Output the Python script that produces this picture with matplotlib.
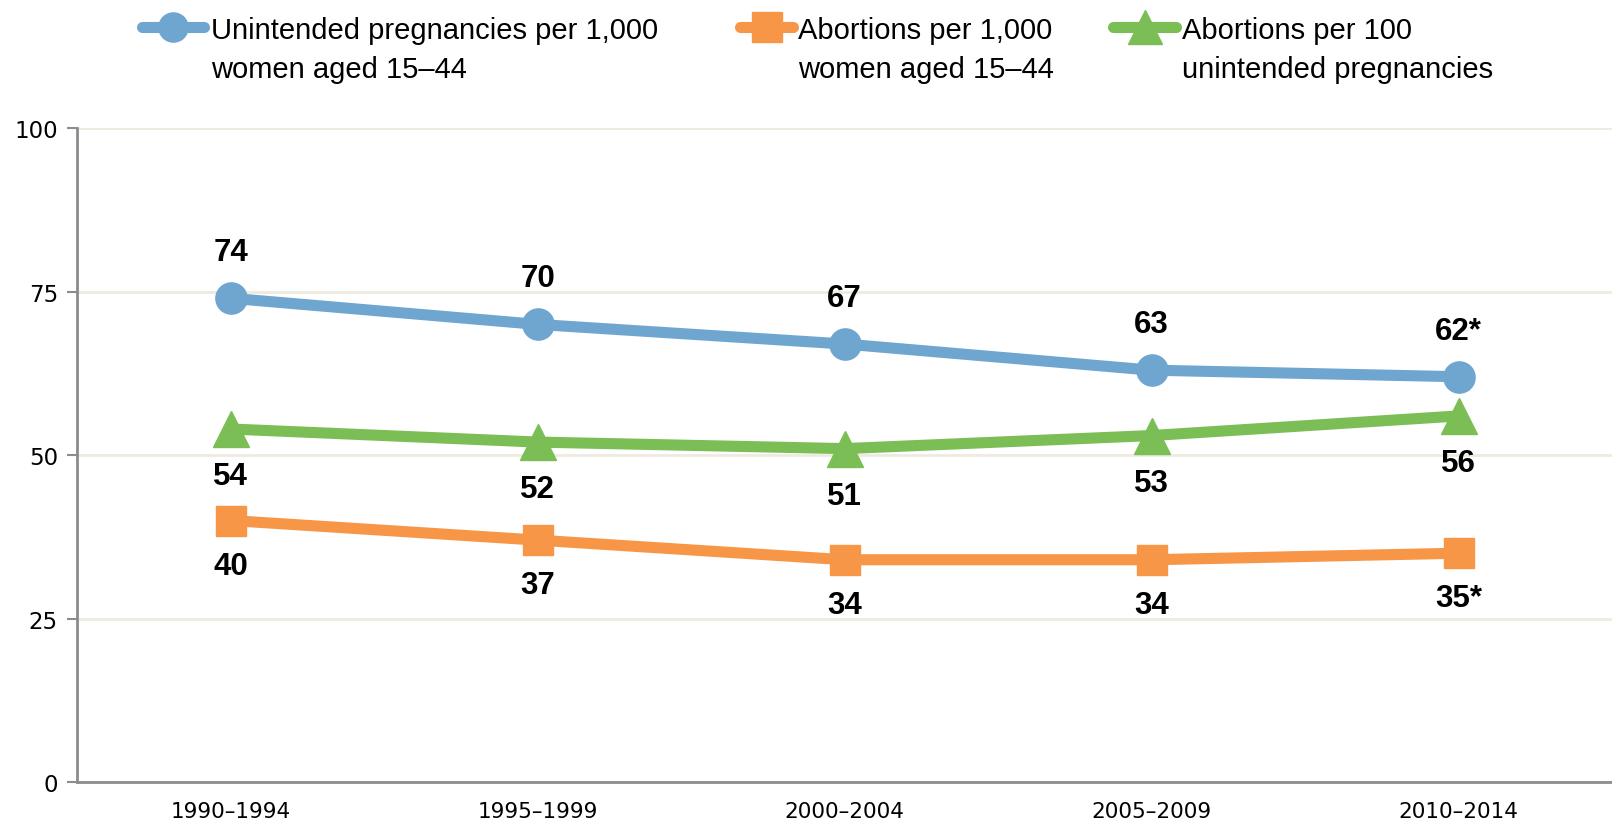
import matplotlib
matplotlib.use("Agg")
import matplotlib.pyplot as plt
from matplotlib.lines import Line2D

categories = ["1990–1994", "1995–1999", "2000–2004", "2005–2009", "2010–2014"]
unintended = [74, 70, 67, 63, 62]
abortions = [40, 37, 34, 34, 35]
abort_per_100 = [54, 52, 51, 53, 56]
unintended_labels = ["74", "70", "67", "63", "62*"]
abortions_labels = ["40", "37", "34", "34", "35*"]
abort100_labels = ["54", "52", "51", "53", "56"]
series_names = ["Unintended pregnancies per 1,000\nwomen aged 15–44",
                "Abortions per 1,000\nwomen aged 15–44",
                "Abortions per 100\nunintended pregnancies"]
yticks = [0, 25, 50, 75, 100]

blue = "#6FA6D0"
orange = "#F79646"
green = "#7BBE55"

W, H = 1612, 829
fig = plt.figure(figsize=(W / 100, H / 100), dpi=100)
ax = fig.add_axes([0.048, 0.0555, 0.952, 0.7885])

x = list(range(len(categories)))
lw = 8
ax.plot(x, unintended, color=blue, lw=lw, marker="o", ms=22.5, solid_capstyle="round", zorder=3)
ax.plot(x, abort_per_100, color=green, lw=lw, marker="^", ms=26, solid_capstyle="round", zorder=3)
ax.plot(x, abortions, color=orange, lw=lw, marker="s", ms=22, solid_capstyle="round", zorder=3)

lab_font = dict(fontsize=22.5, fontweight="bold", ha="center", va="center", family="Liberation Sans")
for i in x:
    ax.annotate(unintended_labels[i], (i, unintended[i]), xytext=(0, 46), textcoords="offset pixels", **lab_font)
    ax.annotate(abort100_labels[i], (i, abort_per_100[i]), xytext=(0, -47), textcoords="offset pixels", **lab_font)
    ax.annotate(abortions_labels[i], (i, abortions[i]), xytext=(0, -45), textcoords="offset pixels", **lab_font)

ax.set_xlim(-0.5, 4.5)
ax.set_ylim(0, 100)
ax.set_yticks(yticks)
ax.set_xticks(x)
ax.set_xticklabels(categories)
ax.grid(axis="y", color="#EDEAE0", lw=2)
ax.set_axisbelow(True)
for s in ["top", "right"]:
    ax.spines[s].set_visible(False)
for s in ["left", "bottom"]:
    ax.spines[s].set_color("#8C8C8C")
    ax.spines[s].set_linewidth(2)
ax.tick_params(axis="y", length=7, width=1.5, color="#8C8C8C", labelsize=16.5, pad=7)
ax.tick_params(axis="x", length=0, labelsize=15.5, pad=14)

# manual legend (pixel positions converted to figure fractions)
leg_items = [
    (blue, "o", 21, 142, 204, 211),
    (orange, "s", 22, 740, 793, 798),
    (green, "^", 24, 1113, 1176, 1182),
]
y_hand, y_line1, y_line2 = 28, 31, 70
for (col, mk, ms, x0, x1, xt), name in zip(leg_items, series_names):
    yf = 1 - y_hand / H
    fig.add_artist(Line2D([x0 / W, x1 / W], [yf, yf], transform=fig.transFigure,
                          color=col, lw=lw, solid_capstyle="round"))
    fig.add_artist(Line2D([(x0 + x1) / 2 / W], [yf], transform=fig.transFigure,
                          color=col, marker=mk, ms=ms, lw=0))
    l1, l2 = name.split("\n")
    fig.text(xt / W, 1 - y_line1 / H, l1, ha="left", va="center", fontsize=21,
             family="Liberation Sans")
    fig.text(xt / W, 1 - y_line2 / H, l2, ha="left", va="center", fontsize=21,
             family="Liberation Sans")

fig.savefig("out.png", dpi=100)
